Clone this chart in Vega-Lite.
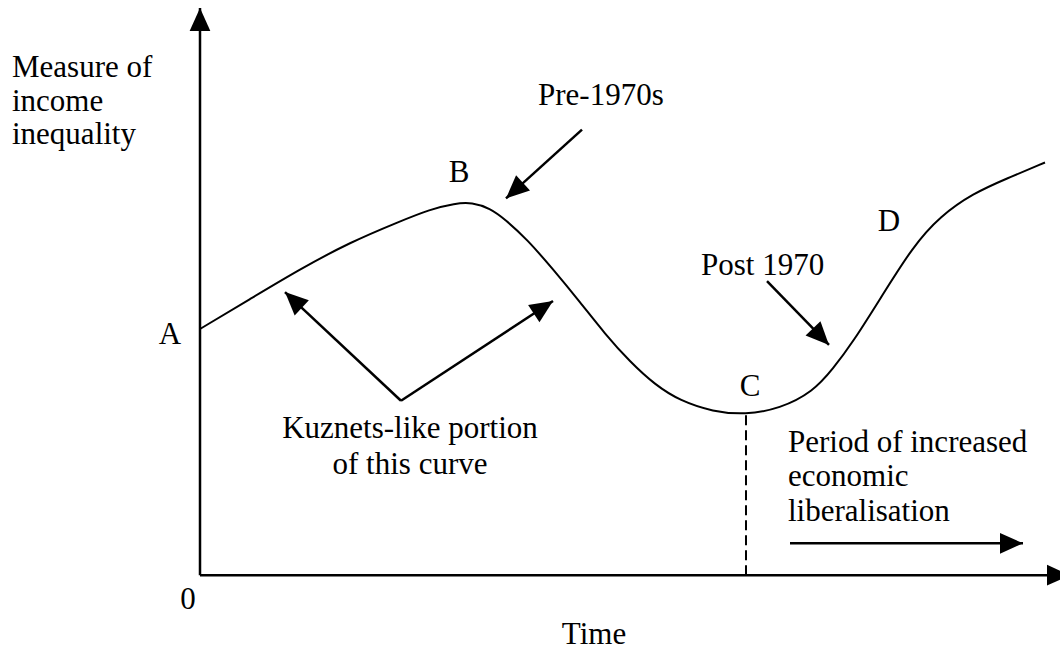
{
  "$schema": "https://vega.github.io/schema/vega-lite/v6.json",
  "width": 1060,
  "height": 650,
  "autosize": {"type": "fit", "contains": "padding"},
  "padding": 0,
  "background": "white",
  "config": {"view": {"stroke": null}},
  "datasets": {
    "curve": [
      {"t": 0, "v": 247}, {"t": 50, "v": 277}, {"t": 100, "v": 307}, {"t": 150, "v": 334},
      {"t": 200, "v": 355}, {"t": 230, "v": 367}, {"t": 255, "v": 373}, {"t": 272, "v": 374},
      {"t": 290, "v": 368}, {"t": 305, "v": 357}, {"t": 327, "v": 337}, {"t": 353, "v": 307},
      {"t": 380, "v": 274}, {"t": 405, "v": 242}, {"t": 430, "v": 214}, {"t": 455, "v": 191},
      {"t": 480, "v": 175}, {"t": 513, "v": 164}, {"t": 545, "v": 161}, {"t": 580, "v": 167},
      {"t": 613, "v": 184}, {"t": 633, "v": 207}, {"t": 653, "v": 234}, {"t": 680, "v": 277},
      {"t": 713, "v": 330}, {"t": 740, "v": 360}, {"t": 773, "v": 383}, {"t": 807, "v": 398},
      {"t": 845, "v": 414}
    ],
    "arrows": [
      {"name": "yaxis", "t1": 0, "v1": 0, "t2": 0, "v2": 569},
      {"name": "xaxis", "t1": 0, "v1": 0, "t2": 870, "v2": 0},
      {"name": "pre", "t1": 382, "v1": 447, "t2": 306, "v2": 378},
      {"name": "post", "t1": 567, "v1": 295, "t2": 629, "v2": 231},
      {"name": "kuzL", "t1": 201, "v1": 175, "t2": 85, "v2": 284},
      {"name": "kuzR", "t1": 201, "v1": 175, "t2": 353, "v2": 275},
      {"name": "period", "t1": 590, "v1": 32, "t2": 823, "v2": 32}
    ],
    "dash": [{"t": 546, "v1": 0, "v2": 161}],
    "leftText": [
      {"label": "Measure of", "t": -188, "v": 500},
      {"label": "income", "t": -188, "v": 466},
      {"label": "inequality", "t": -188, "v": 433},
      {"label": "Pre-1970s", "t": 338, "v": 472},
      {"label": "Post 1970", "t": 501, "v": 301},
      {"label": "Period of increased", "t": 588, "v": 124},
      {"label": "economic", "t": 588, "v": 90},
      {"label": "liberalisation", "t": 588, "v": 54}
    ],
    "centerText": [
      {"label": "A", "t": -30, "v": 232},
      {"label": "B", "t": 259, "v": 394},
      {"label": "C", "t": 550, "v": 180},
      {"label": "D", "t": 689, "v": 345},
      {"label": "Kuznets-like portion", "t": 210, "v": 138},
      {"label": "of this curve", "t": 210, "v": 102},
      {"label": "0", "t": -12, "v": -34},
      {"label": "Time", "t": 394, "v": -69}
    ]
  },
  "layer": [
    {
      "data": {"name": "curve"},
      "mark": {"type": "line", "color": "black", "strokeWidth": 2, "interpolate": "basis", "clip": true},
      "encoding": {
        "x": {"field": "t", "type": "quantitative", "scale": {"domain": [-200, 860], "nice": false, "zero": false}, "axis": null},
        "y": {"field": "v", "type": "quantitative", "scale": {"domain": [-73, 577], "nice": false, "zero": false}, "axis": null}
      }
    },
    {
      "data": {"name": "dash"},
      "mark": {"type": "rule", "color": "black", "strokeWidth": 2, "strokeDash": [10, 5], "clip": true},
      "encoding": {
        "x": {"field": "t", "type": "quantitative"},
        "y": {"field": "v1", "type": "quantitative"},
        "y2": {"field": "v2"}
      }
    },
    {
      "data": {"name": "arrows"},
      "mark": {"type": "rule", "color": "black", "strokeWidth": 2.5, "clip": true},
      "encoding": {
        "x": {"field": "t1", "type": "quantitative"},
        "y": {"field": "v1", "type": "quantitative"},
        "x2": {"field": "t2"},
        "y2": {"field": "v2"}
      }
    },
    {
      "data": {"name": "arrows"},
      "transform": [{"calculate": "atan2(datum.t2 - datum.t1, datum.v2 - datum.v1) * 180 / PI", "as": "angle"}],
      "mark": {"type": "point", "shape": "M0,0L-0.45,1L0.45,1Z", "size": 2116, "filled": true, "color": "black", "opacity": 1, "strokeWidth": 0, "clip": true},
      "encoding": {
        "x": {"field": "t2", "type": "quantitative"},
        "y": {"field": "v2", "type": "quantitative"},
        "angle": {"field": "angle", "type": "quantitative", "scale": null}
      }
    },
    {
      "data": {"name": "leftText"},
      "mark": {"type": "text", "align": "left", "baseline": "alphabetic", "font": "Liberation Serif", "fontSize": 31, "color": "black"},
      "encoding": {
        "x": {"field": "t", "type": "quantitative"},
        "y": {"field": "v", "type": "quantitative"},
        "text": {"field": "label"}
      }
    },
    {
      "data": {"name": "centerText"},
      "mark": {"type": "text", "align": "center", "baseline": "alphabetic", "font": "Liberation Serif", "fontSize": 31, "color": "black"},
      "encoding": {
        "x": {"field": "t", "type": "quantitative"},
        "y": {"field": "v", "type": "quantitative"},
        "text": {"field": "label"}
      }
    }
  ]
}
